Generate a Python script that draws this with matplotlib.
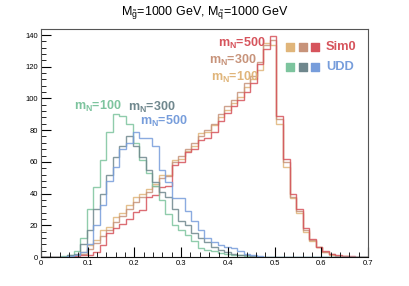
import numpy as np
import matplotlib
matplotlib.use("Agg")
import matplotlib.pyplot as plt
from matplotlib.ticker import MultipleLocator

plt.rcParams['font.family'] = ['Liberation Sans', 'DejaVu Sans']
plt.rcParams['mathtext.fontset'] = 'custom'
plt.rcParams['mathtext.rm'] = 'Liberation Sans'
plt.rcParams['mathtext.it'] = 'Liberation Sans:italic'
plt.rcParams['mathtext.bf'] = 'Liberation Sans:bold'

# 50 bins between 0 and 0.7
bin_edges = np.linspace(0.0, 0.7, 51)

def pad(vals):
    v = np.zeros(50)
    v[:len(vals)] = vals
    return v

sim0_100 = pad([0, 0, 0, 0, 0.3, 1, 3, 7.6, 11, 17, 19, 25.5, 27.6, 33, 38, 40, 43, 46, 52, 52,
                61, 62, 67, 70, 78, 79, 83, 88, 93, 97, 101, 107, 112, 118, 135, 134, 84, 57, 37, 28,
                16, 10, 6, 3, 1.5, 0.8, 0.5, 0.3, 0.1, 0])
sim0_300 = pad([0, 0, 0, 0, 0.3, 1, 2, 5, 9, 13, 17, 22, 26, 30, 35, 38, 41, 45, 50, 51,
                60, 64, 68, 72, 76, 80, 84, 90, 95, 99, 104, 110, 114, 123, 134, 137, 87, 60, 38, 29,
                17, 11, 6, 3.2, 1.6, 0.9, 0.6, 0.3, 0.2, 0])
sim0_500 = pad([0, 0, 0, 0, 0.2, 0.5, 1, 1.5, 3.4, 7.6, 15, 18, 21, 24, 28.6, 29.5, 38, 39, 44, 45,
                58, 60, 66, 68, 74, 75, 79, 86, 91, 95, 99, 104, 110, 122, 131, 139.5, 89, 62, 40, 30,
                18, 11.5, 6.6, 3.5, 1.8, 1, 0.8, 0.4, 0.2, 0])
udd_100 = pad([0, 0, 0, 0.5, 1.5, 4, 12, 30, 44, 61, 79, 90, 89, 84, 72, 61, 53, 45, 36, 27,
               20, 17, 14, 10, 5.5, 4.5, 3.5, 2.5, 2, 1.5, 1, 0.5, 0.3])
udd_300 = pad([0, 0, 0, 0.3, 1, 2, 8, 17, 30, 40, 52, 63, 70, 76, 70, 63, 55, 47, 41, 38,
               30, 23, 20, 15, 12, 9.7, 6.5, 4.5, 3, 2, 1.5, 1, 0.5, 0.3])
udd_500 = pad([0, 0, 0, 0, 0.5, 1, 3, 8, 20, 33, 48, 57, 68, 72, 79, 75, 75, 70, 55, 47,
               37, 37, 29, 23, 17, 12, 9.7, 7.5, 6.5, 5.5, 4, 2, 1, 0.5, 0.3])

series = [
    (sim0_100, '#e0b57a'),
    (sim0_300, '#c7937a'),
    (sim0_500, '#d6545c'),
    (udd_100, '#7dc49e'),
    (udd_300, '#6f878d'),
    (udd_500, '#779ddb'),
]

fig = plt.figure(figsize=(4.09, 2.86), dpi=100)
ax = fig.add_axes([41/409, 29/286, 327/409, 228/286])

for vals, col in series:
    ax.stairs(vals, bin_edges, color=col, lw=1.0, alpha=0.85)

ax.set_xlim(0, 0.7)
ax.set_ylim(0, 143.8)
ax.xaxis.set_major_locator(MultipleLocator(0.1))
ax.xaxis.set_minor_locator(MultipleLocator(0.02))
ax.yaxis.set_major_locator(MultipleLocator(20))
ax.yaxis.set_minor_locator(MultipleLocator(4))
ax.tick_params(which='both', direction='in', top=False, right=False, labelsize=5.5, pad=2)
ax.tick_params(which='major', length=7, width=0.8)
ax.tick_params(which='minor', length=3.5, width=0.6)
ax.set_xticks(np.arange(0, 0.71, 0.1))
ax.set_xticklabels(['0', '0.1', '0.2', '0.3', '0.4', '0.5', '0.6', '0.7'])
for sp in ax.spines.values():
    sp.set_linewidth(0.8)
    sp.set_color('#555555')
ax.spines['bottom'].set_color('#111111')

fig.text(205/409, 1 - 12.5/286,
         r"M$_{\tilde{\mathrm{g}}}$=1000 GeV, M$_{\tilde{\mathrm{q}}}$=1000 GeV",
         ha='center', va='center', fontsize=9)

# Sim0 mass labels
fs = 9.0
ax.text(0.481, 134.6, r"m$_{\mathbf{N}}$=500", color='#d6545c', ha='right', va='center', fontsize=fs, fontweight='bold')
ax.text(0.462, 124.0, r"m$_{\mathbf{N}}$=300", color='#c7937a', ha='right', va='center', fontsize=fs, fontweight='bold')
ax.text(0.465, 113.5, r"m$_{\mathbf{N}}$=100", color='#e0b57a', ha='right', va='center', fontsize=fs, fontweight='bold')
# UDD mass labels
ax.text(0.071, 95.0, r"m$_{\mathbf{N}}$=100", color='#7dc49e', ha='left', va='center', fontsize=fs, fontweight='bold')
ax.text(0.186, 94.5, r"m$_{\mathbf{N}}$=300", color='#6f878d', ha='left', va='center', fontsize=fs, fontweight='bold')
ax.text(0.212, 85.5, r"m$_{\mathbf{N}}$=500", color='#779ddb', ha='left', va='center', fontsize=fs, fontweight='bold')

# legend squares
row1 = [c for _, c in series[:3]]
row2 = [c for _, c in series[3:]]
for j, (c1, c2) in enumerate(zip(row1, row2)):
    xa = (290 + 12.5 * j - 41) / 327
    ax.scatter([xa], [1 - (46.7 - 29) / 228], s=30, marker='s', color=c1, transform=ax.transAxes, clip_on=False)
    ax.scatter([xa], [1 - (66.5 - 29) / 228], s=30, marker='s', color=c2, transform=ax.transAxes, clip_on=False)
ax.text((326 - 41) / 327, 1 - (46.7 - 29) / 228, "Sim0", color='#d6545c', transform=ax.transAxes,
        ha='left', va='center', fontsize=9.3, fontweight='bold')
ax.text((326 - 41) / 327, 1 - (66.5 - 29) / 228, "UDD", color='#779ddb', transform=ax.transAxes,
        ha='left', va='center', fontsize=9.3, fontweight='bold')

fig.savefig("out.png", dpi=100)
